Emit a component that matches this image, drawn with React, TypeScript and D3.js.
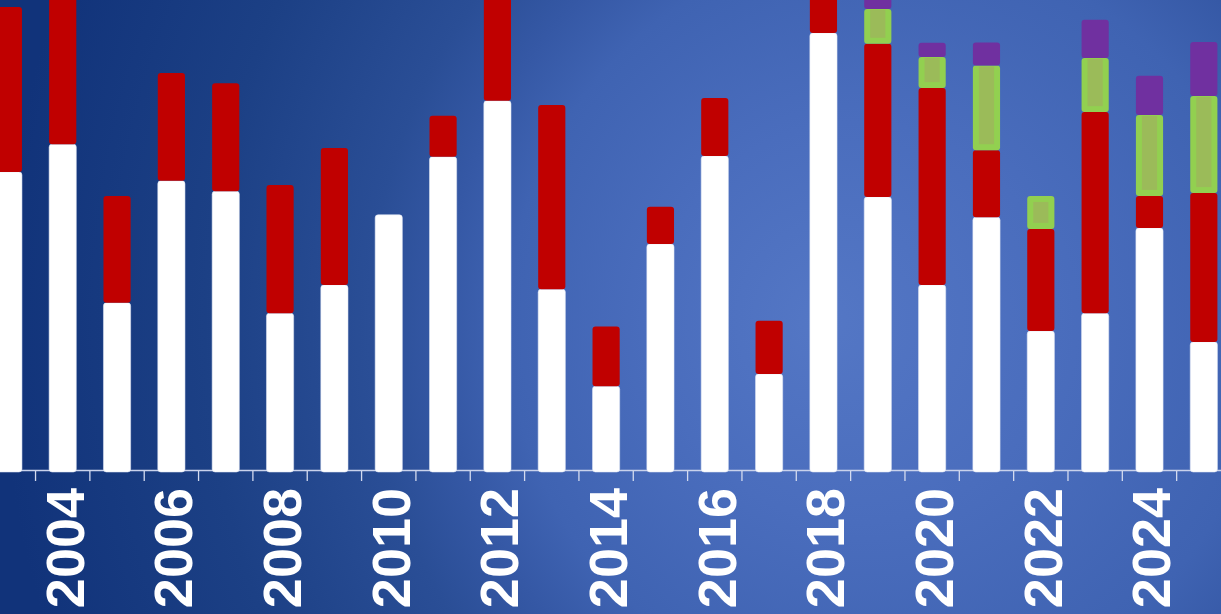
import React from "react";
import * as d3 from "d3";

const years = [2003, 2004, 2005, 2006, 2007, 2008, 2009, 2010, 2011, 2012, 2013, 2014, 2015, 2016, 2017, 2018, 2019, 2020, 2021, 2022, 2023, 2024, 2025];
const whiteVals = [63.5, 69.4, 35.7, 61.6, 59.4, 33.5, 39.5, 54.4, 66.7, 78.6, 38.6, 18.0, 48.2, 66.9, 20.6, 93.0, 58.2, 39.5, 53.9, 29.7, 33.5, 51.6, 27.4];
const redVals = [35.0, 33.8, 22.7, 22.9, 22.9, 27.2, 29.1, 0, 8.7, 23.6, 39.1, 12.7, 7.9, 12.3, 11.3, 9.1, 32.5, 41.8, 14.2, 21.7, 42.7, 6.8, 31.6];
const greenVals = [0, 0, 0, 0, 0, 0, 0, 0, 0, 0, 0, 0, 0, 0, 0, 0, 7.4, 6.6, 18.0, 7.0, 11.5, 17.2, 20.6];
const purpleVals = [0, 0, 0, 0, 0, 0, 0, 0, 0, 0, 0, 0, 0, 0, 0, 0, 3.0, 3.0, 4.9, 0, 8.1, 8.3, 11.5];
const labeledYears = [2004, 2006, 2008, 2010, 2012, 2014, 2016, 2018, 2020, 2022, 2024];

const W = 1221;
const H = 614;

export default function App() {
  const x = d3.scaleBand<number>().domain(years).range([-18.8, 1231]).paddingInner(0.5).paddingOuter(0.25);
  const y = d3.scaleLinear().domain([0, 100]).range([471, 0]);
  const bw = x.bandwidth();
  const step = x.step();
  const rows = years.map((yr, i) => ({ year: yr, white: whiteVals[i], red: redVals[i], green: greenVals[i], purple: purpleVals[i] }));
  const stack = d3.stack<any>().keys(["white", "red", "green", "purple"])(rows);
  const r = 3;
  const fills: Record<string, string> = { white: "#ffffff", red: "#c00000", green: "#92d050", purple: "#7030a0" };
  const tickXs = years.map((yr) => (x(yr) as number) + bw / 2 - step / 2).concat([(x(years[years.length - 1]) as number) + bw / 2 + step / 2]);

  return (
    <svg width={W} height={H} style={{ position: "absolute", left: 0, top: 0, display: "block" }}>
      <defs>
        <radialGradient id="bg" gradientUnits="userSpaceOnUse" cx={1000} cy={330} r={1000} fx={820} fy={320}>
          <stop offset="0" stopColor="#5477c5" />
          <stop offset="0.2" stopColor="#4a6dbd" />
          <stop offset="0.38" stopColor="#3f63b2" />
          <stop offset="0.46" stopColor="#3558a5" />
          <stop offset="0.55" stopColor="#2a4e96" />
          <stop offset="0.75" stopColor="#1c4085" />
          <stop offset="1" stopColor="#11337a" />
        </radialGradient>
      </defs>
      <rect x={0} y={0} width={W} height={H} fill="url(#bg)" />
      <line x1={0} x2={W} y1={470.5} y2={470.5} stroke="#c9d2ec" strokeWidth={1.3} />
      {tickXs.map((tx, i) => (
        <line key={"t" + i} x1={tx} x2={tx} y1={471} y2={481} stroke="#d4dbef" strokeWidth={1.3} />
      ))}
      {stack.map((series) => (
        <g key={series.key}>
          {series.map((d, i) => {
            const v = d[1] - d[0];
            if (v <= 0) return null;
            const bx = x(years[i]) as number;
            const top = y(d[1]);
            const bot = y(d[0]) + (series.key === "white" ? 1 : 0);
            const h = bot - top;
            if (series.key === "green") {
              const hasPurple = purpleVals[i] > 0;
              const it = hasPurple ? 1 : 6;
              return (
                <g key={i}>
                  <rect x={bx} y={top} width={bw} height={h} rx={r} fill="#92d050" />
                  <rect x={bx + 6} y={top + it} width={bw - 12} height={Math.max(0, h - it - 6)} fill="#9bbb59" />
                </g>
              );
            }
            return (
              <rect
                key={i}
                x={bx}
                y={top}
                width={bw}
                height={h}
                rx={r}
                fill={fills[series.key]}
                stroke={series.key === "white" ? "rgba(225,230,245,0.7)" : "none"}
                strokeWidth={series.key === "white" ? 0.8 : 0}
              />
            );
          })}
        </g>
      ))}
      {labeledYears.map((yr) => {
        const cx = (x(yr) as number) + bw / 2 + 21;
        return (
          <text
            key={"l" + yr}
            transform={`translate(${cx},488) rotate(-90)`}
            textAnchor="end"
            fill="#ffffff"
            fontFamily="'Liberation Sans', Arial, sans-serif"
            fontWeight="bold"
            fontSize={54}
          >
            {yr}
          </text>
        );
      })}
    </svg>
  );
}
